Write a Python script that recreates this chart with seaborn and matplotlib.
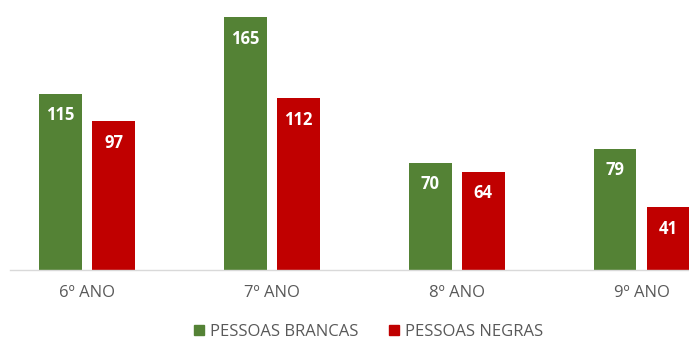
import matplotlib
matplotlib.use("Agg")
import matplotlib.pyplot as plt
from matplotlib.lines import Line2D
import seaborn as sns
import pandas as pd

# Values per school year
anos = ["6º ANO", "7º ANO", "8º ANO", "9º ANO"]
brancas = [115, 165, 70, 79]
negras = [97, 112, 64, 41]
grupos = ["PESSOAS BRANCAS", "PESSOAS NEGRAS"]
cores = ["#548235", "#C00000"]

df = pd.DataFrame({
    "ano": anos * 2,
    "valor": brancas + negras,
    "grupo": [grupos[0]] * len(anos) + [grupos[1]] * len(anos),
})

sns.set_theme(style="white")
plt.rcParams["font.family"] = ["Open Sans", "DejaVu Sans"]

W, H = 689, 339
fig = plt.figure(figsize=(W / 100, H / 100), dpi=100)
ax = fig.add_axes([10 / W, (H - 270) / H, 679 / W, 270 / H])

sns.barplot(data=df, x="ano", y="valor", hue="grupo", hue_order=grupos,
            palette=cores, width=0.574, gap=0.19, ax=ax, legend=False,
            linewidth=0, saturation=1)

ax.set_xlim(-0.417, 3.257)
ax.set_ylim(0, 176.1)

for cont in ax.containers:
    ax.bar_label(cont, padding=-22, color="white", fontsize=12,
                 fontweight="bold")

for side in ["top", "right", "left"]:
    ax.spines[side].set_visible(False)
ax.spines["bottom"].set_color("#D9D9D9")
ax.spines["bottom"].set_linewidth(1)
ax.set_yticks([])
ax.set_xlabel("")
ax.set_ylabel("")
ax.tick_params(axis="x", length=0, pad=11, labelsize=12, labelcolor="#595959")

handles = [Line2D([], [], marker="s", linestyle="", markersize=7,
                  markerfacecolor=c, markeredgecolor=c) for c in cores]
fig.legend(handles, grupos, loc="center", ncol=2, frameon=False,
           bbox_to_anchor=(368 / W, 1 - 332 / H), fontsize=12,
           labelcolor="#595959", handlelength=0.7, handletextpad=0.3,
           columnspacing=1.8)

fig.savefig("out.png", dpi=100)
